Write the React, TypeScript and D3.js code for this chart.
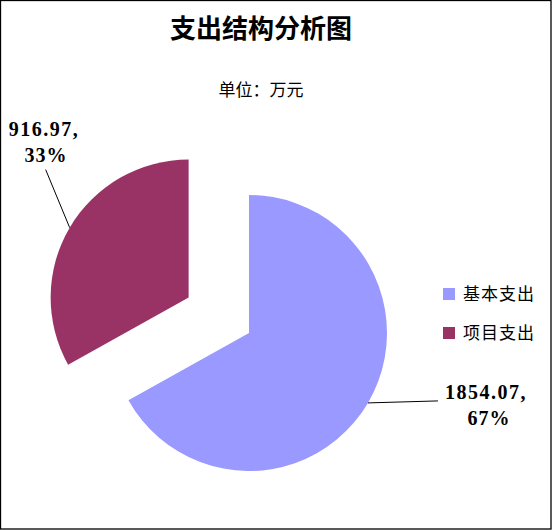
import React from "react";
import * as d3 from "d3";

const categories = ["基本支出", "项目支出"];
const values = [1854.07, 916.97];
const percentLabels = ["67%", "33%"];
const colors = ["#9999FF", "#993366"];
const title = "支出结构分析图";
const subtitle = "单位：万元";

const W = 552;
const H = 530;
const cx = 249;
const cy = 333;
const R = 138;
const explode = [0, 70];

export default function App() {
  const pie = d3.pie<number>().sort(null).startAngle(0).endAngle(2 * Math.PI);
  const arcs = pie(values);
  const arc = d3.arc<d3.PieArcDatum<number>>().innerRadius(0).outerRadius(R);
  const fontCJK = "'Liberation Serif', 'Noto Sans CJK SC', serif";
  const fontNum = "'Liberation Serif', 'DejaVu Serif', serif";

  return (
    <svg width={W} height={H} style={{ position: "absolute", left: 0, top: 0, background: "#fff" }}>
      <rect x={0.5} y={0.5} width={W - 1.5} height={H - 1.5} fill="#fff" stroke="#000" strokeWidth={1.3} />
      <text x={261} y={38} textAnchor="middle" fontFamily={fontCJK} fontWeight="bold" fontSize={26}>{title}</text>
      <text x={261} y={96} textAnchor="middle" fontFamily={fontCJK} fontSize={17}>{subtitle}</text>
      {arcs.map((a, i) => {
        const mid = (a.startAngle + a.endAngle) / 2;
        const dx = Math.sin(mid) * explode[i];
        const dy = -Math.cos(mid) * explode[i];
        return (
          <path key={i} d={arc(a) || ""} fill={colors[i]} transform={`translate(${cx + dx},${cy + dy})`} />
        );
      })}
      {arcs.map((a, i) => {
        const mid = (a.startAngle + a.endAngle) / 2;
        const dx = Math.sin(mid) * explode[i];
        const dy = -Math.cos(mid) * explode[i];
        const px = cx + dx + Math.sin(mid) * R;
        const py = cy + dy - Math.cos(mid) * R;
        const valueText = values[i].toFixed(2) + ",";
        if (i === 0) {
          return (
            <g key={"l" + i}>
              <line x1={px} y1={py} x2={px + 70} y2={py - 2} stroke="#000" strokeWidth={1} />
              <text x={486} y={399} textAnchor="middle" fontFamily={fontNum} fontWeight="bold" fontSize={20} letterSpacing={1.5}>{valueText}</text>
              <text x={489} y={425} textAnchor="middle" fontFamily={fontNum} fontWeight="bold" fontSize={20} letterSpacing={1}>{percentLabels[i]}</text>
            </g>
          );
        }
        return (
          <g key={"l" + i}>
            <line x1={px} y1={py} x2={px - 24} y2={py - 58} stroke="#000" strokeWidth={1} />
            <text x={44} y={136} textAnchor="middle" fontFamily={fontNum} fontWeight="bold" fontSize={20} letterSpacing={1.5}>{valueText}</text>
            <text x={46} y={162} textAnchor="middle" fontFamily={fontNum} fontWeight="bold" fontSize={20} letterSpacing={1}>{percentLabels[i]}</text>
          </g>
        );
      })}
      {categories.map((c, i) => (
        <g key={"lg" + i} transform={`translate(443,${288 + i * 39})`}>
          <rect x={0} y={0} width={12} height={12} fill={colors[i]} />
          <text x={20} y={12} fontFamily={fontCJK} fontSize={17} letterSpacing={1}>{c}</text>
        </g>
      ))}
    </svg>
  );
}
